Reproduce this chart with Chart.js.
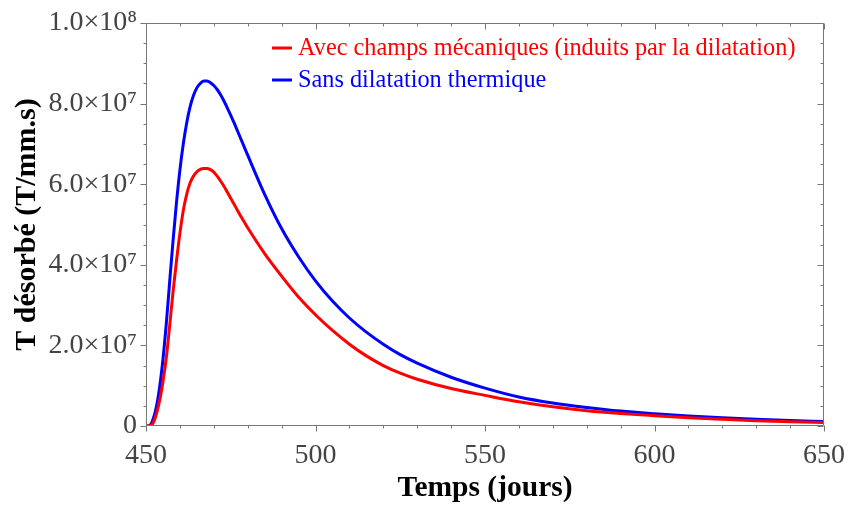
<!DOCTYPE html>
<html>
<head>
<meta charset="utf-8">
<script src="https://cdn.jsdelivr.net/npm/chart.js@4.4.0/dist/chart.umd.min.js"></script>
<style>
  body { margin: 0; background: #fff; }
</style>
</head>
<body>
<canvas id="desorption" width="848" height="508"></canvas>
<script>
// temps (jours)
var days = [450, 451, 452, 453, 454, 455, 456, 457, 458, 459, 460, 461, 462, 463, 464, 465, 466, 467, 468, 469, 470,
  471, 472, 473, 474, 475, 476, 477, 478, 479, 480, 485, 490, 495, 500, 505, 510, 515, 520, 525, 530, 540, 550, 560,
  570, 580, 590, 600, 610, 620, 630, 640, 650];

// T desorbe, en unites de 1e7 T/mm.s
var avecChamps = [0, 0, 0.06, 0.28, 0.62, 1.1, 1.7, 2.5, 3.35, 4.1, 4.78, 5.35, 5.75, 6.03, 6.2, 6.31, 6.37, 6.39, 6.39, 6.36, 6.3,
  6.2, 6.08, 5.95, 5.8, 5.65, 5.5, 5.35, 5.2, 5.06, 4.92, 4.28, 3.72, 3.2, 2.76, 2.37, 2.03, 1.74, 1.5, 1.31, 1.16, 0.93, 0.76, 0.6,
  0.475, 0.38, 0.31, 0.255, 0.205, 0.165, 0.133, 0.107, 0.085];
var sansDilatation = [0, 0.01, 0.15, 0.45, 0.95, 1.65, 2.55, 3.6, 4.62, 5.55, 6.35, 7.0, 7.52, 7.92, 8.2, 8.39, 8.5, 8.56, 8.56, 8.52, 8.45,
  8.35, 8.22, 8.065, 7.89, 7.71, 7.52, 7.32, 7.12, 6.92, 6.72, 5.75, 4.9, 4.2, 3.6, 3.1, 2.68, 2.33, 2.03, 1.77, 1.56, 1.21, 0.94, 0.72,
  0.57, 0.46, 0.37, 0.305, 0.25, 0.205, 0.168, 0.137, 0.112];

var seriesNames = ['Avec champs mécaniques (induits par la dilatation)', 'Sans dilatation thermique'];
var seriesColors = ['#ff0000', '#0000ff'];

var xTicks = [450, 500, 550, 600, 650];
var yTicks = [0, 2e7, 4e7, 6e7, 8e7, 1e8];
var yTickLabels = ['0', '2.0×10⁷', '4.0×10⁷', '6.0×10⁷', '8.0×10⁷', '1.0×10⁸'];

var serif = "'Liberation Serif', 'DejaVu Serif', serif";

function toPoints(vals) {
  return days.map(function (d, i) { return { x: d, y: vals[i] * 1e7 }; });
}

// cadre + graduations mineures sur les 4 cotes
var frameTicks = {
  id: 'frameTicks',
  afterDatasetsDraw: function (chart) {
    var ctx = chart.ctx, a = chart.chartArea, xs = chart.scales.x, ys = chart.scales.y;
    var L = Math.round(a.left) + 0.5, R = Math.round(a.right) - 0.5;
    var T = Math.round(a.top) + 0.5, B = Math.round(a.bottom) - 0.5;
    ctx.save();
    ctx.strokeStyle = '#777';
    ctx.lineWidth = 1;
    ctx.beginPath();
    ctx.rect(L, T, R - L, B - T);
    for (var v = 450; v <= 650; v += 10) {
      var px = Math.round(xs.getPixelForValue(v)) + 0.5;
      var len = v % 50 === 0 ? 6 : 3;
      ctx.moveTo(px, B); ctx.lineTo(px, B + len);
      ctx.moveTo(px, T); ctx.lineTo(px, T + len);
    }
    for (var w = 0; w <= 1e8; w += 5e6) {
      var py = Math.round(ys.getPixelForValue(w)) + 0.5;
      var ln = w % 2e7 === 0 ? 6 : 3;
      ctx.moveTo(L - ln, py); ctx.lineTo(L, py);
      ctx.moveTo(R - ln, py); ctx.lineTo(R, py);
    }
    ctx.stroke();
    ctx.restore();
  }
};

// legende dans la zone du graphe
var insideLegend = {
  id: 'insideLegend',
  afterDraw: function (chart) {
    var ctx = chart.ctx;
    ctx.save();
    ctx.font = '24.3px ' + serif;
    ctx.textBaseline = 'middle';
    chart.data.datasets.forEach(function (ds, i) {
      var y = 48 + i * 32;
      ctx.strokeStyle = ds.borderColor;
      ctx.lineWidth = 3;
      ctx.beginPath();
      ctx.moveTo(272, y);
      ctx.lineTo(292, y);
      ctx.stroke();
      ctx.fillStyle = ds.borderColor;
      ctx.fillText(ds.label, 298, y + 1);
    });
    ctx.restore();
  }
};

new Chart(document.getElementById('desorption'), {
  type: 'line',
  data: {
    datasets: [
      { label: seriesNames[0], data: toPoints(avecChamps), borderColor: seriesColors[0], borderWidth: 3,
        pointRadius: 0, cubicInterpolationMode: 'monotone', fill: false },
      { label: seriesNames[1], data: toPoints(sansDilatation), borderColor: seriesColors[1], borderWidth: 3,
        pointRadius: 0, cubicInterpolationMode: 'monotone', fill: false }
    ]
  },
  options: {
    responsive: false,
    animation: false,
    devicePixelRatio: 1,
    layout: { padding: { top: 23, right: 24, left: 0, bottom: 0 } },
    plugins: { legend: { display: false }, tooltip: { enabled: false } },
    scales: {
      x: {
        type: 'linear', min: 450, max: 650,
        afterBuildTicks: function (axis) { axis.ticks = xTicks.map(function (v) { return { value: v }; }); },
        afterFit: function (axis) { axis.height = 82; axis.paddingLeft = 0; axis.paddingRight = 0; },
        grid: { display: false, drawTicks: false },
        border: { display: false },
        ticks: { color: '#444', font: { family: serif, size: 28 }, padding: 13, maxRotation: 0 },
        title: { display: true, text: 'Temps (jours)', color: '#000',
          font: { family: serif, size: 29.5, weight: 'bold' }, padding: { top: 0, bottom: 2 } }
      },
      y: {
        min: 0, max: 1e8,
        afterBuildTicks: function (axis) { axis.ticks = yTicks.map(function (v) { return { value: v }; }); },
        afterFit: function (axis) { axis.width = 146; axis.paddingTop = 0; axis.paddingBottom = 0; },
        grid: { display: false, drawTicks: false },
        border: { display: false },
        ticks: {
          color: '#444', font: { family: serif, size: 28 }, padding: 9,
          callback: function (value) { return yTickLabels[yTicks.indexOf(value)]; }
        },
        title: { display: true, text: 'T désorbé (T/mm.s)', color: '#000',
          font: { family: serif, size: 30, weight: 'bold' }, padding: { top: 9, bottom: 0 } }
      }
    }
  },
  plugins: [frameTicks, insideLegend]
});
</script>
</body>
</html>
